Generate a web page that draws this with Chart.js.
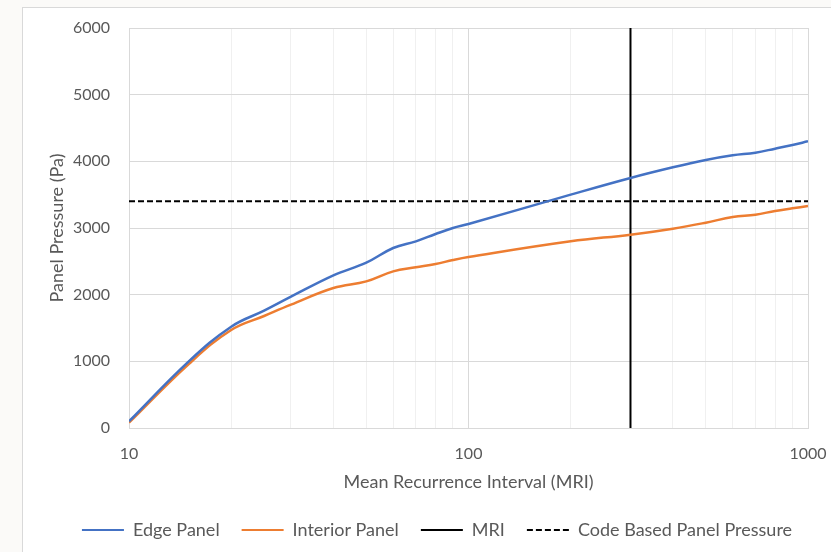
<!DOCTYPE html>
<html>
<head>
<meta charset="utf-8">
<script src="https://cdn.jsdelivr.net/npm/chart.js@4.4.1/dist/chart.umd.min.js"></script>
<style>
  body { margin: 0; background: #fbfaf8; width: 831px; height: 552px; overflow: hidden; }
  #box { position: absolute; left: 22px; top: 7px; width: 840px; height: 570px; background: #fff; border: 1px solid #d9d9d9; }
  #wrap { position: absolute; left: 0; top: 0; width: 828px; height: 541px; }
</style>
</head>
<body>
<div id="box"><div id="wrap"><canvas id="chart"></canvas></div></div>
<script>
// Values
const mriValues = [10, 15, 20, 25, 30, 40, 50, 60, 70, 80, 90, 100, 200, 300, 400, 500, 600, 700, 800, 900, 1000];
const edgePanel = [100, 1000, 1520, 1760, 1970, 2290, 2480, 2700, 2800, 2910, 3000, 3060, 3500, 3750, 3910, 4020, 4090, 4130, 4190, 4245, 4300];
const interiorPanel = [80, 960, 1470, 1680, 1850, 2100, 2200, 2350, 2410, 2460, 2520, 2565, 2800, 2900, 2990, 3080, 3165, 3200, 3255, 3295, 3330];
const mriLine = 300;
const codePressure = 3400;
const xTickLabels = [10, 100, 1000];
const xGridValues = [10, 20, 30, 40, 50, 60, 70, 80, 90, 100, 200, 300, 400, 500, 600, 700, 800, 900, 1000];

const textColor = '#595959';
const tickFont = { family: 'Lato', size: 16 };
const textFont = { family: 'Lato', size: 18 };

// Build points for the library
const toPoints = (ys) => mriValues.map((x, i) => ({ x: x, y: ys[i] }));

new Chart(document.getElementById('chart'), {
  type: 'scatter',
  data: {
    datasets: [
      {
        label: 'Edge Panel',
        data: toPoints(edgePanel),
        showLine: true,
        borderColor: '#4472C4',
        backgroundColor: '#4472C4',
        borderWidth: 2.5,
        pointRadius: 0,
        tension: 0.4
      },
      {
        label: 'Interior Panel',
        data: toPoints(interiorPanel),
        showLine: true,
        borderColor: '#ED7D31',
        backgroundColor: '#ED7D31',
        borderWidth: 2.5,
        pointRadius: 0,
        tension: 0.4
      },
      {
        label: 'MRI',
        data: [{ x: mriLine, y: 0 }, { x: mriLine, y: 6000 }],
        showLine: true,
        borderColor: '#000',
        backgroundColor: '#000',
        borderWidth: 2,
        pointRadius: 0
      },
      {
        label: 'Code Based Panel Pressure',
        data: [{ x: 10, y: codePressure }, { x: 1000, y: codePressure }],
        showLine: true,
        borderColor: '#000',
        backgroundColor: '#000',
        borderWidth: 2,
        borderDash: [6, 3],
        pointRadius: 0
      }
    ]
  },
  options: {
    responsive: true,
    maintainAspectRatio: false,
    animation: false,
    layout: { padding: { top: 20, right: 0, left: 0, bottom: 0 } },
    plugins: {
      tooltip: { enabled: false },
      legend: {
        position: 'bottom',
        labels: {
          color: textColor,
          font: textFont,
          usePointStyle: true,
          pointStyleWidth: 42,
          padding: 22,
          // legend lines take the dataset line style
          generateLabels: (chart) => chart.data.datasets.map((ds, i) => ({
            text: ds.label,
            datasetIndex: i,
            pointStyle: 'line',
            strokeStyle: ds.borderColor,
            fillStyle: ds.borderColor,
            lineWidth: 2,
            lineDash: ds.borderDash || [],
            fontColor: textColor,
            hidden: false
          }))
        }
      }
    },
    scales: {
      x: {
        type: 'logarithmic',
        min: 10,
        max: 1000,
        afterBuildTicks: (scale) => { scale.ticks = xGridValues.map(v => ({ value: v })); },
        afterFit: (scale) => {
          scale.height = 71;
          scale.paddingLeft = 0;
          scale.paddingRight = 43;
        },
        grid: {
          drawTicks: false,
          color: (ctx) => (ctx.tick && xTickLabels.includes(ctx.tick.value)) ? '#d9d9d9' : '#f0f0f0',
          lineWidth: 1
        },
        border: { color: '#d9d9d9' },
        ticks: {
          color: textColor,
          font: tickFont,
          padding: 16,
          autoSkip: false,
          maxRotation: 0,
          callback: (v) => xTickLabels.includes(v) ? String(v) : ''
        },
        title: {
          display: true,
          text: 'Mean Recurrence Interval (MRI)',
          color: textColor,
          font: textFont,
          padding: { top: 0, bottom: 6 }
        }
      },
      y: {
        min: 0,
        max: 6000,
        afterFit: (scale) => {
          scale.width = 106;
          scale.paddingTop = 0;
          scale.paddingBottom = 0;
        },
        grid: { drawTicks: false, color: '#d9d9d9' },
        border: { color: '#d9d9d9' },
        ticks: { stepSize: 1000, color: textColor, font: tickFont, padding: 19, callback: (v) => String(v) },
        title: {
          display: true,
          text: 'Panel Pressure (Pa)',
          color: textColor,
          font: textFont,
          padding: { top: 23, bottom: 0 }
        }
      }
    }
  }
});
</script>
</body>
</html>
